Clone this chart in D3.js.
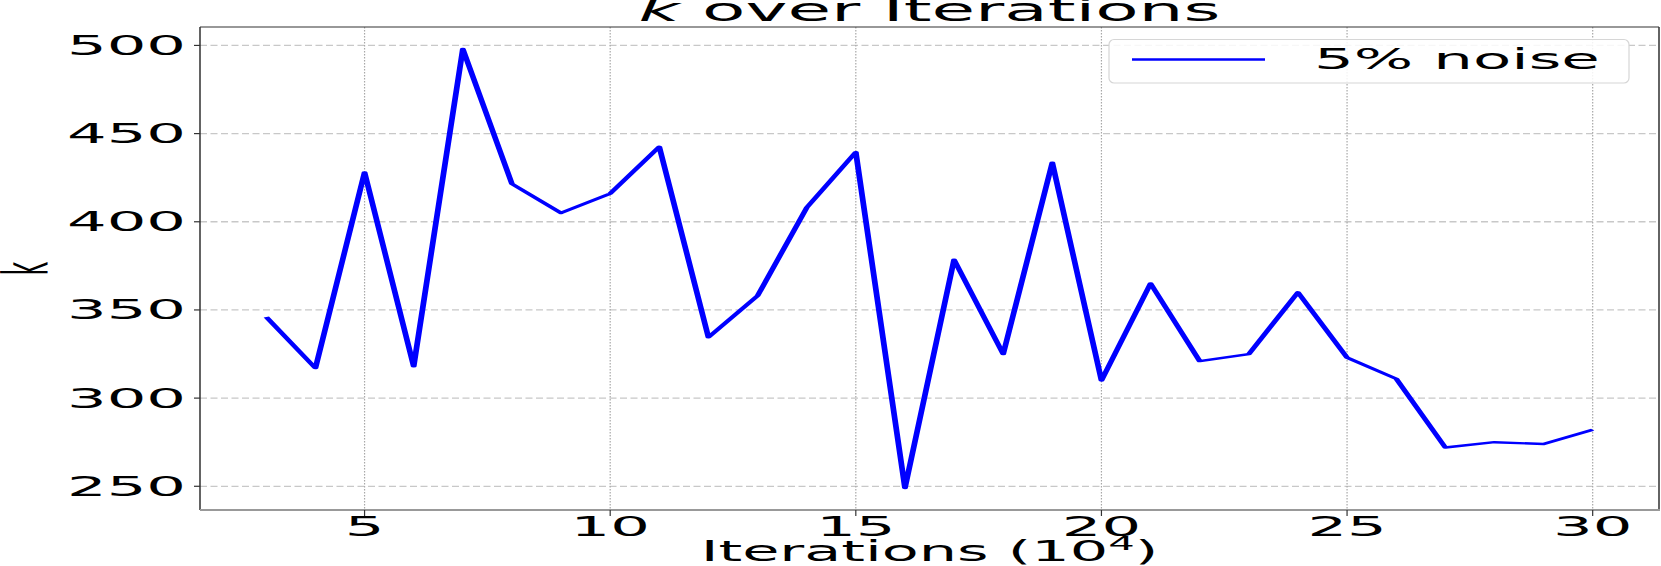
<!DOCTYPE html>
<html>
<head>
<meta charset="utf-8">
<script src="https://cdn.jsdelivr.net/npm/d3@7"></script>
<style>
  html, body { margin: 0; padding: 0; background: #fff; }
  svg { display: block; font-family: "DejaVu Sans", sans-serif; }
</style>
</head>
<body>
<svg id="chart" width="1661" height="566"></svg>
<script>
// ---- data ----
const iterations = [3,4,5,6,7,8,9,10,11,12,13,14,15,16,17,18,19,20,21,22,23,24,25,26,27,28,29,30];
const kValues = [346,317,428,318,498,421.5,405,416,442.5,334.5,358,408,439.5,249,378.5,325,433.5,310,365,321,325,360,323,311,272,275,274,282];
const xTicks = [5,10,15,20,25,30];
const yTicks = [250,300,350,400,450,500];
const seriesName = "5% noise";
const titleMain = "k";
const titleRest = " over Iterations";
const xLabel = "Iterations (10";
const xLabelSup = "4";
const yLabel = "k";

// ---- layout ----
const L = 200, R = 1659, T = 27, B = 510;
const S = 2.4; // horizontal stretch of the original figure

const svg = d3.select("#chart");

const xPad = (d3.max(iterations) - d3.min(iterations)) * 0.05;
const yPad = (d3.max(kValues) - d3.min(kValues)) * 0.05;
const x = d3.scaleLinear().domain([d3.min(iterations) - xPad, d3.max(iterations) + xPad]).range([L, R]);
const y = d3.scaleLinear().domain([d3.min(kValues) - yPad, d3.max(kValues) + yPad]).range([B, T]);
// stretched copy of x for the line (drawn in an x-scaled group)
const xs = x.copy().range([L / S, R / S]);

// grid
const grid = svg.append("g");
grid.selectAll("line.h").data(yTicks).join("line")
  .attr("x1", L).attr("x2", R).attr("y1", d => y(d)).attr("y2", d => y(d))
  .attr("stroke", "#c8c8c8").attr("stroke-width", 1.3).attr("stroke-dasharray", "7,3.5");
grid.selectAll("line.v").data(xTicks).join("line")
  .attr("x1", d => x(d)).attr("x2", d => x(d)).attr("y1", T).attr("y2", B)
  .attr("stroke", "#a8a8a8").attr("stroke-width", 1.2).attr("stroke-dasharray", "1.5,1.5");

// data line
const line = d3.line().x((d, i) => xs(iterations[i])).y(d => y(d));
svg.append("g").attr("transform", `scale(${S},1)`)
  .append("path").datum(kValues)
  .attr("d", line)
  .attr("fill", "none").attr("stroke", "#0000ff").attr("stroke-width", 2.4)
  .attr("stroke-linejoin", "round").attr("stroke-linecap", "butt");

// spines
svg.append("line").attr("x1", L).attr("x2", L).attr("y1", T).attr("y2", B).attr("stroke", "#222").attr("stroke-width", 1.4);
svg.append("line").attr("x1", R).attr("x2", R).attr("y1", T).attr("y2", B).attr("stroke", "#222").attr("stroke-width", 1.4);
svg.append("line").attr("x1", L).attr("x2", R).attr("y1", T).attr("y2", T).attr("stroke", "#333").attr("stroke-width", 1.2);
svg.append("line").attr("x1", L).attr("x2", R + 1).attr("y1", B).attr("y2", B).attr("stroke", "#999").attr("stroke-width", 2);

// ticks
const tickFont = 26;
const probe = svg.append("text").attr("font-size", tickFont).text("500");
const fTick = 119 / probe.node().getComputedTextLength();
probe.remove();

const yAxis = svg.append("g");
yAxis.selectAll("line").data(yTicks).join("line")
  .attr("x1", L - 6).attr("x2", L).attr("y1", d => y(d)).attr("y2", d => y(d))
  .attr("stroke", "#333").attr("stroke-width", 1.2);
yAxis.selectAll("text").data(yTicks).join("text")
  .attr("font-size", tickFont).attr("text-anchor", "end").attr("fill", "#000")
  .attr("transform", d => `translate(${L - 14},${y(d) + 9.5}) scale(${fTick},1)`)
  .text(d => d);

const xAxis = svg.append("g");
xAxis.selectAll("line").data(xTicks).join("line")
  .attr("x1", d => x(d)).attr("x2", d => x(d)).attr("y1", B).attr("y2", B + 6)
  .attr("stroke", "#333").attr("stroke-width", 1.2);
xAxis.selectAll("text").data(xTicks).join("text")
  .attr("font-size", tickFont).attr("text-anchor", "middle").attr("fill", "#000")
  .attr("transform", d => `translate(${x(d)},${536}) scale(${fTick},1)`)
  .text(d => d);

// x label
const xl = svg.append("text").attr("font-size", 29).attr("text-anchor", "middle").attr("fill", "#000");
xl.append("tspan").text(xLabel);
xl.append("tspan").attr("font-size", 20).attr("dy", -11).text(xLabelSup);
xl.append("tspan").attr("dy", 11).text(")");
const fXl = 458 / xl.node().getComputedTextLength();
xl.attr("transform", `translate(${(L + R) / 2},561) scale(${fXl},1)`);

// y label
const yl = svg.append("text").attr("font-size", 23).attr("text-anchor", "middle").attr("fill", "#000")
  .text(yLabel);
yl.attr("transform", `translate(46.5,${(T + B) / 2}) scale(2.7,1) rotate(-90)`);

// title
const tt = svg.append("text").attr("font-size", 31.6).attr("text-anchor", "middle").attr("fill", "#000");
tt.append("tspan").attr("font-style", "italic").text(titleMain);
tt.append("tspan").text(titleRest);
const fT = 582 / tt.node().getComputedTextLength();
tt.attr("transform", `translate(${(L + R) / 2},21.3) scale(${fT},1)`);

// legend
const lg = svg.append("g");
lg.append("rect").attr("x", 1109).attr("y", 39.5).attr("width", 520).attr("height", 43.5)
  .attr("rx", 5).attr("ry", 5)
  .attr("fill", "#fff").attr("fill-opacity", 0.85).attr("stroke", "#d6d6d6").attr("stroke-width", 1.2);
lg.append("line").attr("x1", 1132).attr("x2", 1265).attr("y1", 59.5).attr("y2", 59.5)
  .attr("stroke", "#0000ff").attr("stroke-width", 2.4);
const lt = lg.append("text").attr("font-size", 27.5).attr("text-anchor", "start").attr("fill", "#000").text(seriesName);
const fL = 286 / lt.node().getComputedTextLength();
lt.attr("transform", `translate(1314,69.3) scale(${fL},1)`);
</script>
</body>
</html>
